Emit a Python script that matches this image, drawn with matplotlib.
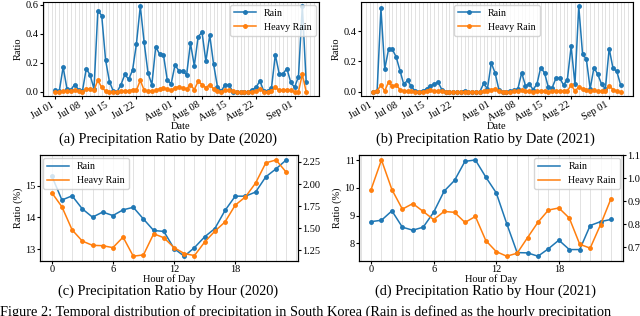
import pandas as pd
import matplotlib
matplotlib.use('Agg')
import matplotlib.pyplot as plt
import matplotlib.dates as mdates
from matplotlib.ticker import MultipleLocator

plt.rcParams['font.family'] = ['Liberation Serif', 'DejaVu Serif']

# Daily ratios, Jul 01 - Sep 05
dates_2020 = pd.date_range('2020-07-01', periods=66, freq='D')
dates_2021 = pd.date_range('2021-07-01', periods=66, freq='D')

rain_2020 = [0.01, 0.005, 0.17, 0.02, 0.015, 0.05, 0.015, 0.005, 0.16, 0.115,
             0.02, 0.56, 0.525, 0.22, 0.07, 0.005, 0.0, 0.05, 0.12, 0.085,
             0.15, 0.33, 0.59, 0.34, 0.13, 0.05, 0.31, 0.26, 0.255, 0.08,
             0.055, 0.185, 0.145, 0.145, 0.115, 0.335, 0.18, 0.38, 0.41, 0.21,
             0.39, 0.19, 0.035, 0.005, 0.05, 0.045, 0.0, 0.0, 0.0, 0.0,
             0.0, 0.015, 0.03, 0.075, 0.005, 0.005, 0.025, 0.255, 0.125, 0.125,
             0.16, 0.065, 0.03, 0.105, 0.59, 0.065]
heavy_2020 = [0.0, 0.0, 0.005, 0.005, 0.005, 0.01, 0.005, 0.0, 0.02, 0.02,
              0.01, 0.08, 0.03, 0.005, 0.0, 0.0, 0.0, 0.005, 0.005, 0.005,
              0.015, 0.01, 0.08, 0.01, 0.005, 0.005, 0.01, 0.02, 0.025, 0.02,
              0.01, 0.028, 0.035, 0.025, 0.02, 0.048, 0.015, 0.072, 0.05, 0.028,
              0.05, 0.02, 0.005, 0.0, 0.01, 0.01, 0.005, 0.0, 0.0, 0.0,
              0.0, 0.0, 0.005, 0.02, 0.0, 0.0, 0.005, 0.03, 0.01, 0.01,
              0.015, 0.01, 0.0, 0.0, 0.12, 0.0]

rain_2021 = [0.0, 0.005, 0.55, 0.15, 0.28, 0.28, 0.23, 0.14, 0.05, 0.075,
             0.035, 0.005, 0.0, 0.005, 0.02, 0.04, 0.05, 0.065, 0.015, 0.0,
             0.0, 0.0, 0.0, 0.0, 0.008, 0.0, 0.0, 0.0, 0.0, 0.055,
             0.02, 0.19, 0.125, 0.015, 0.0, 0.0, 0.005, 0.01, 0.02, 0.125,
             0.04, 0.05, 0.015, 0.05, 0.16, 0.125, 0.03, 0.025, 0.09, 0.09,
             0.045, 0.08, 0.3, 0.05, 0.565, 0.25, 0.215, 0.02, 0.16, 0.115,
             0.05, 0.02, 0.285, 0.155, 0.135, 0.045]
heavy_2021 = [0.0, 0.005, 0.045, 0.005, 0.065, 0.035, 0.045, 0.015, 0.005, 0.005,
              0.005, 0.0, 0.0, 0.0, 0.005, 0.01, 0.005, 0.005, 0.005, 0.0,
              0.0, 0.0, 0.0, 0.0, 0.0, 0.0, 0.0, 0.0, 0.0, 0.005,
              0.005, 0.015, 0.018, 0.005, 0.0, 0.0, 0.0, 0.005, 0.005, 0.01,
              0.005, 0.005, 0.0, 0.005, 0.005, 0.005, 0.0, 0.005, 0.005, 0.005,
              0.005, 0.005, 0.045, 0.005, 0.03, 0.02, 0.015, 0.005, 0.01, 0.005,
              0.005, 0.005, 0.04, 0.015, 0.005, 0.0]

# Hourly ratios (%)
hours = list(range(24))
rain_hour_2020 = [15.31, 14.55, 14.68, 14.27, 14.01, 14.17, 14.06, 14.24, 14.32, 13.95,
                  13.59, 13.56, 13.02, 12.78, 13.05, 13.39, 13.65, 14.22, 14.67, 14.67,
                  14.80, 15.28, 15.53, 15.81]
heavy_hour_2020 = [1.903, 1.742, 1.481, 1.354, 1.306, 1.302, 1.28, 1.399, 1.183, 1.198,
                   1.437, 1.392, 1.28, 1.213, 1.19, 1.343, 1.466, 1.571, 1.761, 1.854,
                   2.011, 2.239, 2.272, 2.134]
rain_hour_2021 = [8.78, 8.83, 9.17, 8.58, 8.47, 8.58, 9.12, 9.88, 10.27, 10.96,
                  11.01, 10.39, 9.82, 8.71, 7.66, 7.65, 7.53, 7.80, 8.11, 7.77,
                  7.77, 8.64, 8.78, 8.86]
heavy_hour_2021 = [0.951, 1.080, 0.951, 0.866, 0.890, 0.856, 0.820, 0.856, 0.852, 0.808,
                   0.834, 0.729, 0.681, 0.661, 0.674, 0.742, 0.809, 0.862, 0.871, 0.827,
                   0.713, 0.696, 0.799, 0.912]

blue = '#1f77b4'
orange = '#ff7f0e'
fs = 7.5
title_fs = 10.4

fig = plt.figure(figsize=(6.4, 3.16), dpi=100)


def date_panel(rect, dates, rain, heavy, legend_loc):
    ax = fig.add_axes(rect)
    ax.plot(dates, rain, marker='o', markersize=2.5, linewidth=1.1, color=blue, label='Rain')
    ax.plot(dates, heavy, marker='o', markersize=2.5, linewidth=1.1, color=orange, label='Heavy Rain')
    ax.xaxis.set_major_locator(mdates.DayLocator(bymonthday=[1, 8, 15, 22]))
    ax.xaxis.set_major_formatter(mdates.DateFormatter('%b %d'))
    ax.xaxis.set_minor_locator(mdates.DayLocator())
    ax.grid(True, axis='x', which='both', color='#dddddd', linewidth=0.6)
    ax.tick_params(labelsize=fs, length=2, pad=1)
    ax.tick_params(axis='x', which='minor', length=0)
    for lbl in ax.get_xticklabels():
        lbl.set_rotation(30)
        lbl.set_ha('right')
    ax.set_xlabel('Date', fontsize=fs, labelpad=-1)
    ax.set_ylabel('Ratio', fontsize=fs, labelpad=2)
    ax.legend(loc=legend_loc, fontsize=7.2, handlelength=2.2, borderaxespad=0.3)
    return ax


def hour_panel(rect, rain, heavy, legend_loc):
    ax = fig.add_axes(rect)
    l1, = ax.plot(hours, rain, color=blue, linewidth=1.1, label='Rain')
    ax.plot(hours, rain, 'o', color=blue, markersize=2.5)
    ax2 = ax.twinx()
    l2, = ax2.plot(hours, heavy, color=orange, linewidth=1.1, label='Heavy Rain')
    ax2.plot(hours, heavy, 'o', color=orange, markersize=2.5)
    ax.set_xticks([0, 6, 12, 18])
    ax.xaxis.set_minor_locator(MultipleLocator(1))
    ax.grid(True, axis='x', which='both', color='#dddddd', linewidth=0.6)
    ax.tick_params(labelsize=fs, length=2, pad=1)
    ax.tick_params(axis='x', which='minor', length=0)
    ax2.tick_params(labelsize=fs, length=2, pad=1)
    ax.set_xlabel('Hour of Day', fontsize=fs, labelpad=0)
    ax.set_ylabel('Ratio (%)', fontsize=fs, labelpad=2)
    ax2.legend([l1, l2], ['Rain', 'Heavy Rain'], loc=legend_loc, fontsize=7.2,
               handlelength=2.2, borderaxespad=0.3)
    return ax, ax2


date_panel([0.067, 0.696, 0.431, 0.298], dates_2020, rain_2020, heavy_2020, 'upper right')
date_panel([0.564, 0.696, 0.425, 0.298], dates_2021, rain_2021, heavy_2021, 'upper center')
ax_c, ax_c2 = hour_panel([0.0625, 0.174, 0.403, 0.335], rain_hour_2020, heavy_hour_2020, 'upper left')
ax_d, ax_d2 = hour_panel([0.561, 0.174, 0.4125, 0.335], rain_hour_2021, heavy_hour_2021, 'upper right')
ax_c.set_yticks([13, 14, 15])
ax_c2.set_yticks([1.25, 1.50, 1.75, 2.00, 2.25])
ax_d.set_yticks([8, 9, 10, 11])
ax_d2.set_yticks([0.7, 0.8, 0.9, 1.0, 1.1])

fig.text(0.262, 0.559, '(a) Precipitation Ratio by Date (2020)', ha='center', va='center', fontsize=title_fs)
fig.text(0.759, 0.559, '(b) Precipitation Ratio by Date (2021)', ha='center', va='center', fontsize=title_fs)
fig.text(0.262, 0.077, '(c) Precipitation Ratio by Hour (2020)', ha='center', va='center', fontsize=title_fs)
fig.text(0.758, 0.077, '(d) Precipitation Ratio by Hour (2021)', ha='center', va='center', fontsize=title_fs)
fig.text(0.0, 0.012, 'Figure 2: Temporal distribution of precipitation in South Korea (Rain is defined as the hourly precipitation',
         ha='left', va='center', fontsize=title_fs)

fig.savefig('out.png', dpi=100)
